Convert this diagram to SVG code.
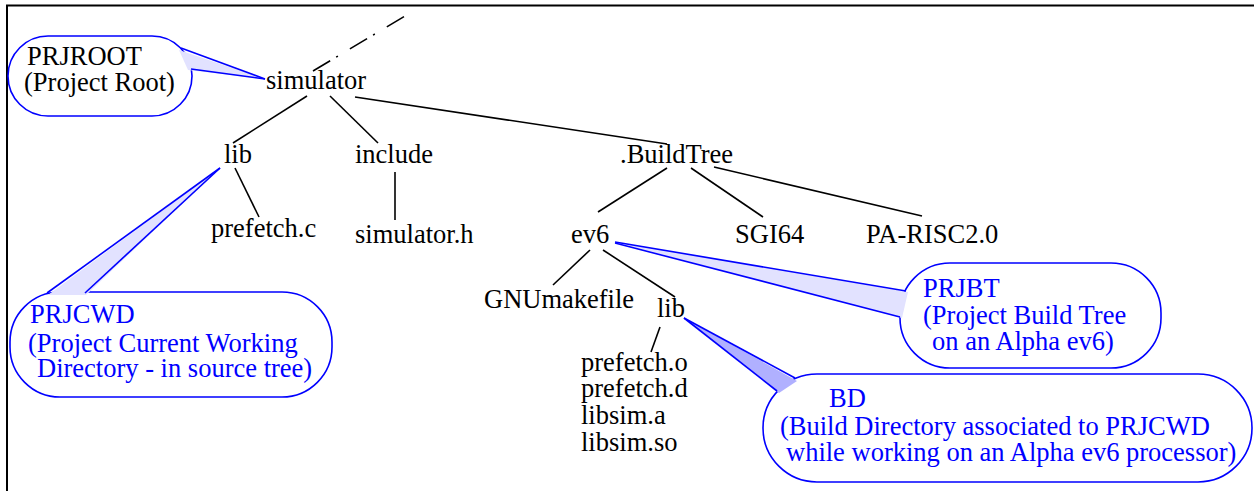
<svg xmlns="http://www.w3.org/2000/svg" width="1254" height="491" viewBox="0 0 1254 491">
  <style>
    .t { font-family: "Liberation Serif", "Times New Roman", serif; font-size: 26.5px; fill: #000; }
    .b { font-family: "Liberation Serif", "Times New Roman", serif; font-size: 26.5px; fill: #0000ff; }
    .edge { stroke: #000; stroke-width: 1.6; fill: none; stroke-linecap: butt; }
    .bubble { fill: #fff; stroke: #0000ff; stroke-width: 1.6; }
    .tail { fill: #e2e2ff; stroke: none; }
    .tail-dark { fill: #b0b0ff; stroke: none; }
    .tail-line { stroke: #0000ff; stroke-width: 1.6; fill: none; }
  </style>
  <rect width="1254" height="491" fill="#fff"/>

  <!-- frame -->
  <path d="M7,491 V5.5 H1254" fill="none" stroke="#000" stroke-width="2"/>

  <!-- tree connectors -->
  <g id="connectors">
    <line class="edge" x1="313" y1="71" x2="405" y2="16" stroke-dasharray="20 7 2 14"/>
    <line class="edge" x1="307" y1="96" x2="233" y2="143"/>
    <line class="edge" x1="330" y1="96" x2="378" y2="143"/>
    <line class="edge" x1="355" y1="97" x2="667" y2="144"/>
    <line class="edge" x1="235" y1="168" x2="259" y2="217"/>
    <line class="edge" x1="395" y1="172" x2="395" y2="220"/>
    <line class="edge" x1="667" y1="168" x2="598" y2="212"/>
    <line class="edge" x1="691" y1="168" x2="763" y2="217"/>
    <line class="edge" x1="714" y1="167" x2="922" y2="216"/>
    <line class="edge" x1="590" y1="250" x2="553" y2="285"/>
    <line class="edge" x1="603" y1="250" x2="675" y2="297"/>
    <line class="edge" x1="660" y1="327" x2="651" y2="352"/>
  </g>

  <!-- directory nodes -->
  <g id="simulator"><text class="t" x="266" y="89">simulator</text></g>
  <g id="lib"><text class="t" x="224" y="163">lib</text></g>
  <g id="include"><text class="t" x="355" y="163">include</text></g>
  <g id="buildtree"><text class="t" x="620" y="163">.BuildTree</text></g>
  <g id="prefetch-c"><text class="t" x="211" y="237">prefetch.c</text></g>
  <g id="simulator-h"><text class="t" x="355" y="243">simulator.h</text></g>
  <g id="ev6"><text class="t" x="571" y="243">ev6</text></g>
  <g id="sgi64"><text class="t" x="735" y="243">SGI64</text></g>
  <g id="pa-risc"><text class="t" x="866" y="243">PA-RISC2.0</text></g>
  <g id="gnumakefile"><text class="t" x="484" y="308">GNUmakefile</text></g>
  <g id="ev6-lib"><text class="t" x="657" y="317">lib</text></g>
  <g id="objects">
    <text class="t" x="581" y="371">prefetch.o</text>
    <text class="t" x="581" y="397">prefetch.d</text>
    <text class="t" x="581" y="424">libsim.a</text>
    <text class="t" x="581" y="451">libsim.so</text>
  </g>

  <!-- callout: PRJROOT -->
  <g id="prjroot">
    <rect class="bubble" x="8" y="36" width="184" height="80" rx="40"/>
    <path class="tail" d="M179,50 L265,79 L188,70 Z"/>
    <line class="tail-line" x1="181" y1="48" x2="265" y2="79"/>
    <line class="tail-line" x1="191" y1="69" x2="265" y2="79"/>
    <text class="t" x="27" y="65">PRJROOT</text>
    <text class="t" x="24" y="91">(Project Root)</text>
  </g>

  <!-- callout: PRJCWD -->
  <g id="prjcwd">
    <rect class="bubble" x="10" y="292" width="322" height="105" rx="50"/>
    <path class="tail" d="M48,295 L220,168 L86,295 Z"/>
    <line class="tail-line" x1="47" y1="293" x2="220" y2="168"/>
    <line class="tail-line" x1="85" y1="293" x2="220" y2="168"/>
    <text class="b" x="30" y="323">PRJCWD</text>
    <text class="b" x="28" y="352">(Project Current Working</text>
    <text class="b" x="37" y="377">Directory - in source tree)</text>
  </g>

  <!-- callout: PRJBT -->
  <g id="prjbt">
    <rect class="bubble" x="900" y="263" width="261" height="105" rx="50"/>
    <path class="tail" d="M615,242 L908,292 L902,318 Z"/>
    <line class="tail-line" x1="615" y1="242" x2="906" y2="291"/>
    <line class="tail-line" x1="615" y1="243" x2="900" y2="317"/>
    <text class="b" x="923" y="297">PRJBT</text>
    <text class="b" x="923" y="324">(Project Build Tree</text>
    <text class="b" x="932" y="350">on an Alpha ev6)</text>
  </g>

  <!-- callout: BD -->
  <g id="bd">
    <rect class="bubble" x="763" y="374" width="489" height="108" rx="54"/>
    <path class="tail-dark" d="M684,318 L797,381 L779,393 Z"/>
    <line class="tail-line" x1="684" y1="318" x2="795" y2="378"/>
    <line class="tail-line" x1="684" y1="318" x2="777" y2="391"/>
    <text class="b" x="829" y="407">BD</text>
    <text class="b" x="780" y="435">(Build Directory associated to PRJCWD</text>
    <text class="b" x="786" y="461">while working on an Alpha ev6 processor)</text>
  </g>
</svg>
